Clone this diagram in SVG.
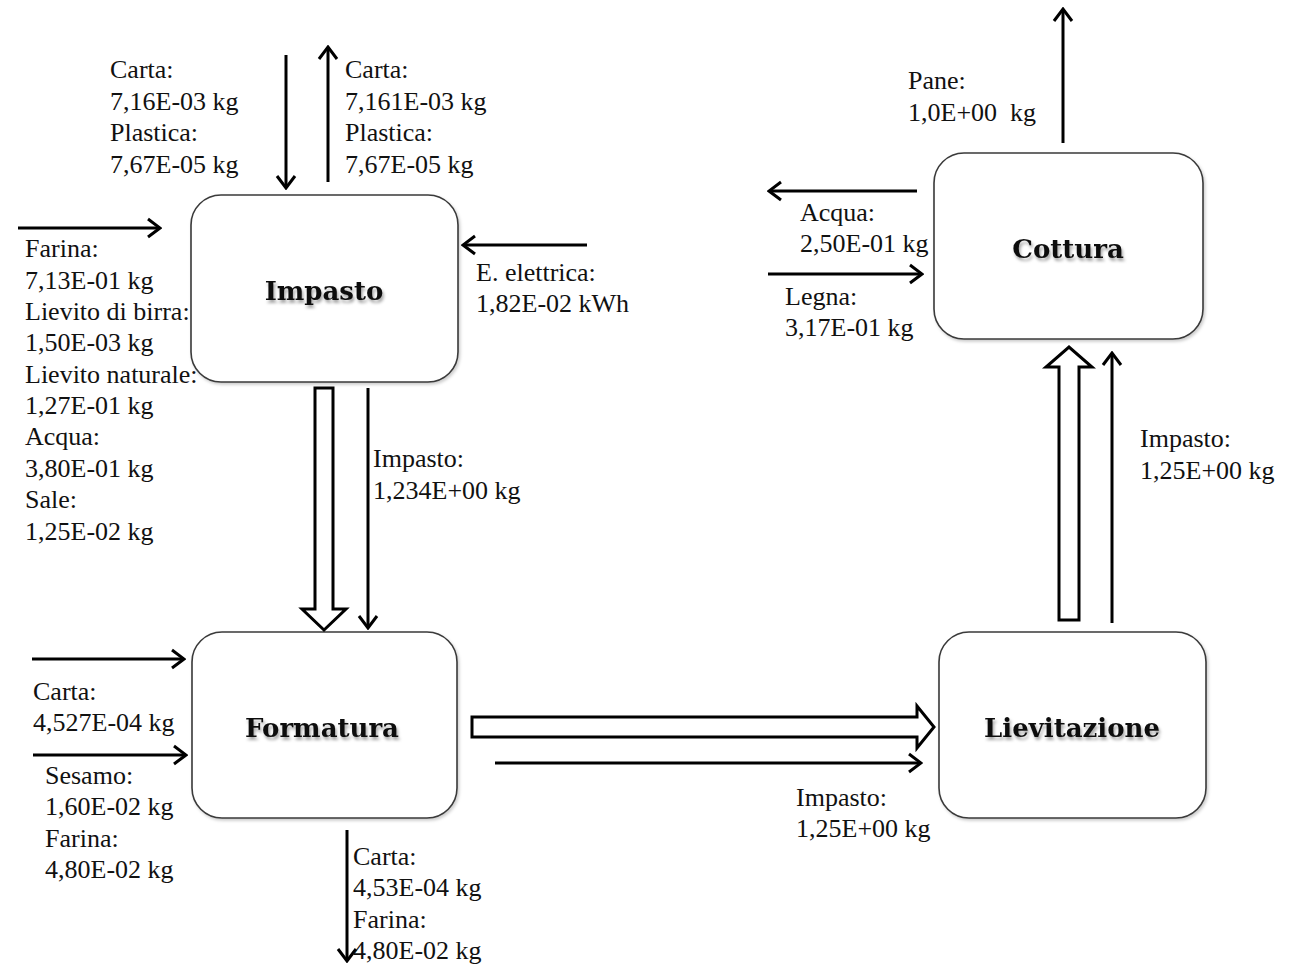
<svg xmlns="http://www.w3.org/2000/svg" width="1292" height="964" viewBox="0 0 1292 964">
  <defs>
    <style>
      .box { fill: #ffffff; stroke: #3a3a3a; stroke-width: 1.6; filter: url(#boxShadow); }
      .title { font-family: "DejaVu Serif", "Liberation Serif", serif; font-weight: bold; font-size: 26px; text-anchor: middle; fill: #111; filter: url(#textShadow); }
      .lbl { font-family: "Liberation Serif", "Times New Roman", serif; font-size: 26px; fill: #111; white-space: pre; }
      .flow { fill: none; stroke: #000; stroke-width: 3; marker-end: url(#head); }
      .block { fill: #ffffff; stroke: #000; stroke-width: 3; stroke-linejoin: miter; }
    </style>
    <marker id="head" markerUnits="userSpaceOnUse" viewBox="0 0 16 22" refX="14" refY="11" markerWidth="16" markerHeight="22" orient="auto">
      <path d="M2,2 L14,11 L2,20" fill="none" stroke="#000" stroke-width="3"/>
    </marker>
    <filter id="boxShadow" x="-10%" y="-10%" width="125%" height="125%">
      <feDropShadow dx="1.5" dy="2" stdDeviation="1.5" flood-color="#000" flood-opacity="0.2"/>
    </filter>
    <filter id="textShadow" x="-10%" y="-30%" width="125%" height="180%">
      <feDropShadow dx="1.5" dy="3" stdDeviation="1.8" flood-color="#000" flood-opacity="0.35"/>
    </filter>
  </defs>

  <rect width="1292" height="964" fill="#ffffff"/>

  <!-- process steps -->
  <g id="impasto">
    <rect class="box" x="191" y="195" width="267" height="187" rx="30"/>
    <text class="title" x="324" y="300">Impasto</text>
  </g>
  <g id="formatura">
    <rect class="box" x="192" y="632" width="265" height="186" rx="30"/>
    <text class="title" x="322" y="737">Formatura</text>
  </g>
  <g id="lievitazione">
    <rect class="box" x="939" y="632" width="267" height="186" rx="30"/>
    <text class="title" x="1072" y="737">Lievitazione</text>
  </g>
  <g id="cottura">
    <rect class="box" x="934" y="153" width="269" height="186" rx="30"/>
    <text class="title" x="1068" y="258">Cottura</text>
  </g>

  <!-- material and energy flows -->
  <g id="connectors">
    <!-- Impasto inputs / outputs -->
    <line class="flow" x1="286" y1="55" x2="286" y2="188"/>
    <line class="flow" x1="328" y1="182" x2="328" y2="47"/>
    <line class="flow" x1="18" y1="228" x2="160" y2="228"/>
    <line class="flow" x1="587" y1="245" x2="463" y2="245"/>
    <!-- Impasto to Formatura -->
    <polygon class="block" points="315,388 333,388 333,609 346,609 324,630 302,609 315,609"/>
    <line class="flow" x1="368" y1="388" x2="368" y2="628"/>
    <!-- Formatura inputs / outputs -->
    <line class="flow" x1="32" y1="659" x2="184" y2="659"/>
    <line class="flow" x1="33" y1="755" x2="186" y2="755"/>
    <line class="flow" x1="347" y1="830" x2="347" y2="961"/>
    <!-- Formatura to Lievitazione -->
    <polygon class="block" points="472,717 917,717 917,706 934,727 917,748 917,737 472,737"/>
    <line class="flow" x1="495" y1="763" x2="921" y2="763"/>
    <!-- Lievitazione to Cottura -->
    <polygon class="block" points="1059,620 1079,620 1079,367 1092,367 1069,347 1046,367 1059,367"/>
    <line class="flow" x1="1112" y1="623" x2="1112" y2="353"/>
    <!-- Cottura inputs / outputs -->
    <line class="flow" x1="1063" y1="143" x2="1063" y2="9"/>
    <line class="flow" x1="917" y1="191" x2="769" y2="191"/>
    <line class="flow" x1="768" y1="274" x2="922" y2="274"/>
  </g>

  <!-- flow labels -->
  <g id="labels">
    <text class="lbl" x="110" y="78">Carta:</text>
    <text class="lbl" x="110" y="110">7,16E-03 kg</text>
    <text class="lbl" x="110" y="141">Plastica:</text>
    <text class="lbl" x="110" y="173">7,67E-05 kg</text>

    <text class="lbl" x="345" y="78">Carta:</text>
    <text class="lbl" x="345" y="110">7,161E-03 kg</text>
    <text class="lbl" x="345" y="141">Plastica:</text>
    <text class="lbl" x="345" y="173">7,67E-05 kg</text>

    <text class="lbl" x="25" y="257">Farina:</text>
    <text class="lbl" x="25" y="289">7,13E-01 kg</text>
    <text class="lbl" x="25" y="320">Lievito di birra:</text>
    <text class="lbl" x="25" y="351">1,50E-03 kg</text>
    <text class="lbl" x="25" y="383">Lievito naturale:</text>
    <text class="lbl" x="25" y="414">1,27E-01 kg</text>
    <text class="lbl" x="25" y="445">Acqua:</text>
    <text class="lbl" x="25" y="477">3,80E-01 kg</text>
    <text class="lbl" x="25" y="508">Sale:</text>
    <text class="lbl" x="25" y="540">1,25E-02 kg</text>

    <text class="lbl" x="476" y="281">E. elettrica:</text>
    <text class="lbl" x="476" y="312">1,82E-02 kWh</text>

    <text class="lbl" x="373" y="467">Impasto:</text>
    <text class="lbl" x="373" y="499">1,234E+00 kg</text>

    <text class="lbl" x="33" y="700">Carta:</text>
    <text class="lbl" x="33" y="731">4,527E-04 kg</text>
    <text class="lbl" x="45" y="784">Sesamo:</text>
    <text class="lbl" x="45" y="815">1,60E-02 kg</text>
    <text class="lbl" x="45" y="847">Farina:</text>
    <text class="lbl" x="45" y="878">4,80E-02 kg</text>

    <text class="lbl" x="353" y="865">Carta:</text>
    <text class="lbl" x="353" y="896">4,53E-04 kg</text>
    <text class="lbl" x="353" y="928">Farina:</text>
    <text class="lbl" x="353" y="959">4,80E-02 kg</text>

    <text class="lbl" x="796" y="806">Impasto:</text>
    <text class="lbl" x="796" y="837">1,25E+00 kg</text>

    <text class="lbl" x="1140" y="447">Impasto:</text>
    <text class="lbl" x="1140" y="479">1,25E+00 kg</text>

    <text class="lbl" x="908" y="89">Pane:</text>
    <text class="lbl" x="908" y="121">1,0E+00  kg</text>

    <text class="lbl" x="800" y="221">Acqua:</text>
    <text class="lbl" x="800" y="252">2,50E-01 kg</text>
    <text class="lbl" x="785" y="305">Legna:</text>
    <text class="lbl" x="785" y="336">3,17E-01 kg</text>
  </g>
</svg>
